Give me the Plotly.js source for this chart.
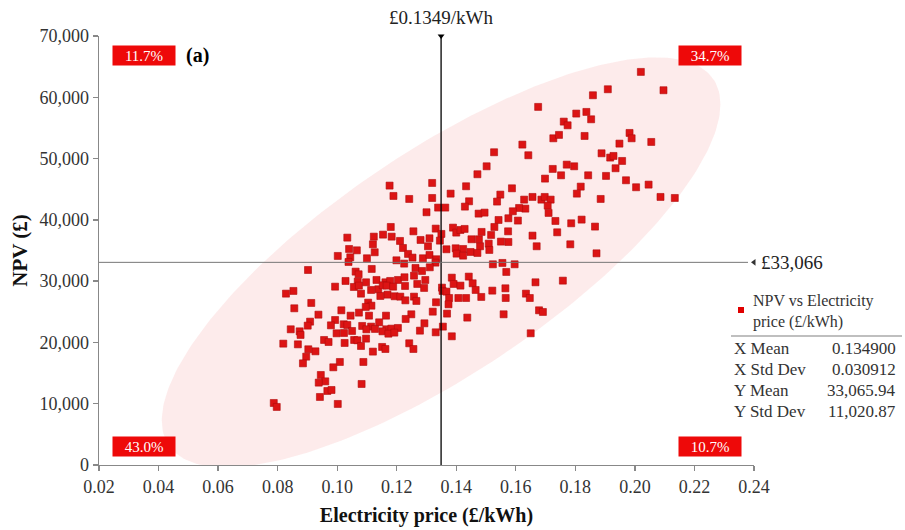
<!DOCTYPE html>
<html><head><meta charset="utf-8">
<script src="https://cdn.plot.ly/plotly-3.0.1.min.js"></script>
<style>html,body{margin:0;padding:0;background:#fff}</style>
</head><body><div id="chart" style="width:905px;height:530px"></div>
<script>
// Electricity price (£/kWh) of each simulated case
const xPrice = [
0.1176,0.1319,0.1471,0.1433,0.1189,0.1242,0.1319,0.1381,0.1443,0.1429,0.1339,0.1363,0.1300,0.1475,0.1495,0.1548,0.1537,0.1542,0.1575,0.1180,
0.1256,0.1331,0.1389,0.1400,0.1414,0.1428,0.1485,0.1528,0.1574,0.1034,0.1123,0.1154,0.1183,0.1211,0.1280,0.1310,0.1350,0.1345,0.1451,0.1476,
0.1517,0.1550,0.1575,0.1509,0.1120,0.1221,0.1305,0.1367,0.1398,0.1423,0.1448,0.1480,0.1511,0.1040,0.1066,0.1126,0.1238,0.1253,0.1288,0.1310,
0.1333,0.1401,0.1423,0.1471,0.1002,0.1044,0.1038,0.1100,0.1199,0.1225,0.1330,0.1311,0.1523,0.1555,0.0902,0.1116,0.1263,0.1285,0.1258,0.1062,
0.1072,0.1028,0.1069,0.1097,0.1132,0.1162,0.1178,0.1204,0.1226,0.1269,0.1296,0.1385,0.1442,0.1391,0.1414,0.1455,0.1568,0.0993,0.1056,0.1073,
0.1138,0.1153,0.1166,0.1188,0.1228,0.1292,0.1352,0.1354,0.1367,0.1465,0.1521,0.1565,0.0828,0.0853,0.1080,0.1114,0.1145,0.1169,0.1193,0.1212,
0.1258,0.1266,0.1229,0.1376,0.1407,0.1433,0.1484,0.1566,0.0913,0.0856,0.1104,0.1115,0.1096,0.1332,0.1374,0.0937,0.1014,0.1045,0.1073,0.1107,
0.1164,0.1249,0.1230,0.1321,0.1369,0.1437,0.1559,0.0909,0.0993,0.0901,0.0979,0.1022,0.1034,0.1084,0.1114,0.1141,0.1165,0.1182,0.1204,0.1293,
0.1355,0.0844,0.0874,0.0877,0.0998,0.1023,0.1050,0.1098,0.1127,0.1152,0.1172,0.1192,0.1278,0.1331,0.1385,0.0819,0.0868,0.0956,0.0971,0.1025,
0.1057,0.1068,0.1097,0.1080,0.1242,0.1256,0.1151,0.1162,0.0903,0.0927,0.1120,0.0896,0.0885,0.1009,0.0987,0.1088,
0.2020,0.1909,0.2096,0.1859,0.1675,0.1803,0.1837,0.1853,0.1761,0.1774,0.1726,0.1745,0.1831,0.1982,0.1989,0.1948,0.2055,0.1622,0.1527,0.1642,
0.1888,0.1917,0.1928,0.1957,0.1935,0.1502,0.1724,0.1771,0.1796,0.1752,0.1843,0.1903,0.1698,0.1970,0.2004,0.2046,0.1818,0.1805,0.1885,0.2086,
0.2134,0.1587,0.1656,0.1628,0.1686,0.1697,0.1717,0.1707,0.1632,0.1611,0.1590,0.1710,0.1607,0.1733,0.1786,0.1821,0.1866,0.1739,0.1656,0.1670,
0.1783,0.1871,0.1596,
0.1666,0.1758,0.1634,0.1647,0.1678,0.1691,0.1650,
0.0945,0.0960,0.0938,0.1082,0.0967,0.0981,0.0942,0.1002,0.0787,0.0797
];
// NPV (£) of each simulated case
const npv = [
45590,46020,47440,45480,43900,43410,43570,44280,43030,42160,42000,42000,41240,41020,41180,44120,42980,39980,40260,38840,
38130,38570,38730,37920,38350,38520,38030,38840,38130,37100,37260,37590,37260,36560,36720,36990,37700,36610,36830,36830,
37540,36450,36390,36120,36010,35410,35690,35200,35360,35250,34760,35690,35090,35250,35030,34710,34440,33840,33730,34270,
33570,34490,34160,34600,34110,33890,33130,33730,33400,32860,33020,32260,32750,32970,31820,31990,32150,31660,30900,31550,
31120,30030,29920,29810,30190,29810,30030,30190,30630,29540,30190,30570,30740,29540,29270,29650,31500,29100,29050,29270,
28670,29320,29270,29100,29210,28890,28940,28400,28290,28560,28450,28830,27960,28400,27960,28560,27580,27800,27530,27470,
27470,26770,26870,27250,27250,27250,27420,27250,26440,25570,26490,26000,25790,26550,26220,24530,25240,24370,24860,24370,
24370,24590,23830,25020,24700,24050,24590,23390,23660,22740,22790,22960,22850,22690,22580,23280,22140,22250,22360,23120,
22580,22140,21810,21220,21490,21540,21870,22140,22200,21810,21430,21600,21920,21650,21000,19800,19690,20400,20070,19910,
20400,20350,20620,19420,19860,18930,19260,18930,18880,18550,18500,17680,16590,16810,15940,16810,
64140,61310,61150,60330,58430,57340,57610,56410,56030,55430,53310,53860,53690,54180,53310,52440,52710,52280,51030,50540,
50860,50160,50430,49610,48420,48740,48310,49010,48740,47270,47270,47170,46730,46460,45320,45750,45420,44280,43410,43740,
43570,45150,43740,43300,43300,43740,43300,42320,41830,41940,41400,41130,39880,39820,39440,40040,38900,37970,37430,35690,
36010,34540,32750,
29810,30080,27960,27250,25240,24970,21490,
14690,13650,13440,13220,12080,12240,11100,9960,10120,9470
];
const statLabels = ['X Mean','X Std Dev','Y Mean','Y Std Dev'];
const statValues = ['0.134900','0.030912','33,065.94','11,020.87'];
const xMean = 0.1349, xStd = 0.030912, yMean = 33065.94, yStd = 11020.87;
const refX = 0.1349, refY = 33066;
const refXLabel = '£0.1349/kWh', refYLabel = '£33,066';
const quadLabels = ['11.7%','34.7%','43.0%','10.7%']; // TL, TR, BL, BR
const seriesName = 'NPV vs Electricity<br>price (£/kWh)';

// correlation from the data
const n = xPrice.length;
const mx = xPrice.reduce((a,b)=>a+b,0)/n, my = npv.reduce((a,b)=>a+b,0)/n;
let sxy=0,sxx=0,syy=0;
for(let i=0;i<n;i++){const dx=xPrice[i]-mx, dy=npv[i]-my; sxy+=dx*dy; sxx+=dx*dx; syy+=dy*dy;}
const rho = sxy/Math.sqrt(sxx*syy);
const k = Math.sqrt(9.21);
const ex=[], ey=[];
for(let j=0;j<=240;j++){
  const t=2*Math.PI*j/240, u=Math.cos(t), v=Math.sin(t);
  ex.push(xMean + k*xStd*u);
  ey.push(yMean + k*yStd*(rho*u + Math.sqrt(1-rho*rho)*v));
}

const SERIF = '"Liberation Serif", "Times New Roman", serif';
const L=99, T=36, W=655, H=429;
const px = p => (p-L)/W, py = p => (T+H-p)/H;

const traces = [
  {x:ex, y:ey, type:'scatter', mode:'lines', fill:'toself', fillcolor:'rgba(246,180,180,0.27)',
   line:{width:0, color:'rgba(0,0,0,0)'}, hoverinfo:'skip', showlegend:false},
  {x:xPrice, y:npv, type:'scatter', mode:'markers', name:seriesName, showlegend:false,
   marker:{symbol:'square', size:7, color:'#dc1414', line:{width:0.6, color:'#b00c0c'}}},
  {x:[refX], y:[70000], type:'scatter', mode:'markers', cliponaxis:false, hoverinfo:'skip', showlegend:false,
   marker:{symbol:'triangle-down', size:6, color:'#000'}},
  {x:[0.24], y:[refY], type:'scatter', mode:'markers', cliponaxis:false, hoverinfo:'skip', showlegend:false,
   marker:{symbol:'triangle-left', size:6, color:'#333'}}
];

const quadPos = [[144,55.5],[709.5,55.5],[144,446],[709.5,446]];
const annotations = quadLabels.map((t,i)=>({
  text:t, xref:'paper', yref:'paper', x:px(quadPos[i][0]), y:py(quadPos[i][1]), xanchor:'center', yanchor:'middle', showarrow:false,
  bgcolor:'#ee0909', width:62, height:19, borderpad:0, font:{family:SERIF, size:15, color:'#ffffff'}
}));
annotations.push({text:'<b>(a)</b>', xref:'paper', yref:'paper', x:px(184), y:py(55), xanchor:'left', yanchor:'middle', showarrow:false,
  font:{family:SERIF, size:20, color:'#000'}});
annotations.push({text:refXLabel, xref:'x', yref:'paper', x:refX, y:py(17), xanchor:'center', yanchor:'middle', showarrow:false,
  font:{family:SERIF, size:19, color:'#222'}});
annotations.push({text:refYLabel, xref:'paper', yref:'y', x:px(759), y:refY, xanchor:'left', yanchor:'middle', showarrow:false,
  font:{family:SERIF, size:19, color:'#222'}});
annotations.push({text:seriesName, xref:'paper', yref:'paper', x:px(751), y:py(311), xanchor:'left', yanchor:'middle', align:'left', showarrow:false,
  font:{family:SERIF, size:16, color:'#333'}});
const rowY=[348,369,390,411];
statLabels.forEach((s,i)=>{
  annotations.push({text:s, xref:'paper', yref:'paper', x:px(732), y:py(rowY[i]), xanchor:'left', yanchor:'middle', showarrow:false,
    font:{family:SERIF, size:17, color:'#333'}});
  annotations.push({text:statValues[i], xref:'paper', yref:'paper', x:px(898), y:py(rowY[i]), xanchor:'right', yanchor:'middle', showarrow:false,
    font:{family:SERIF, size:17, color:'#333'}});
});

const shapes = [
  {type:'line', xref:'x', yref:'y', x0:refX, x1:refX, y0:0, y1:70000, line:{color:'#000', width:1.3}},
  {type:'line', xref:'paper', yref:'y', x0:0, x1:px(748), y0:refY, y1:refY, line:{color:'#777', width:1}},
  {type:'rect', xref:'paper', yref:'paper', x0:px(738), x1:px(744), y0:py(313), y1:py(307), fillcolor:'#e00000', line:{width:0}},
  {type:'line', xref:'paper', yref:'paper', x0:px(731), x1:px(902), y0:py(336), y1:py(336), line:{color:'#aaa', width:1.5}}
];

const axisCommon = {showgrid:false, zeroline:false, showline:true, linecolor:'#888', linewidth:1.3,
  ticks:'outside', ticklen:5, tickcolor:'#888', tickwidth:1.3, automargin:false,
  tickfont:{family:SERIF, size:18, color:'#333'}};

const layout = {
  width:905, height:530, margin:{l:L, r:905-L-W, t:T, b:530-T-H},
  paper_bgcolor:'#fff', plot_bgcolor:'#fff', showlegend:false,
  xaxis:Object.assign({}, axisCommon, {range:[0.02,0.24], dtick:0.02, tick0:0.02, tickformat:'.2f',
    title:{text:'<b>Electricity price (£/kWh)</b>', standoff:12, font:{family:SERIF, size:20, color:'#111'}}}),
  yaxis:Object.assign({}, axisCommon, {range:[0,70000], dtick:10000, tickformat:',',
    title:{text:'<b>NPV (£)</b>', standoff:6, font:{family:SERIF, size:21, color:'#111'}}}),
  annotations, shapes
};
Plotly.newPlot('chart', traces, layout, {displayModeBar:false, staticPlot:true});
</script></body></html>
